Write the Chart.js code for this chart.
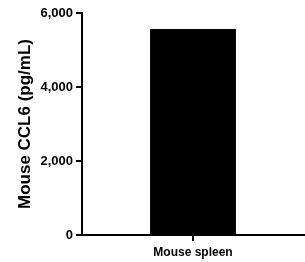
<!DOCTYPE html>
<html>
<head>
<meta charset="utf-8">
<script src="https://cdn.jsdelivr.net/npm/chart.js@4"></script>
<style>
  html, body { margin: 0; padding: 0; background: #fff; }
  #wrap { width: 305px; height: 262px; }
</style>
</head>
<body>
<div id="wrap"><canvas id="myChart" width="305" height="262"></canvas></div>
<script>
// datos del gráfico
const categorias = ["Mouse spleen"];
const valores = [5570];
const ticksY = [0, 2000, 4000, 6000];
const tituloY = "Mouse CCL6 (pg/mL)";

const fuente = "'Liberation Sans', Arial, sans-serif";

const config = {
  type: "bar",
  data: {
    labels: categorias,
    datasets: [
      {
        data: valores,
        backgroundColor: "#000",
        borderWidth: 0,
        barPercentage: 0.387,
        categoryPercentage: 1,
      },
    ],
  },
  options: {
    responsive: false,
    animation: false,
    layout: { padding: { top: 13, right: 1, bottom: 0, left: 0 } },
    plugins: { legend: { display: false }, tooltip: { enabled: false } },
    scales: {
      x: {
        offset: true,
        grid: {
          offset: false,
          drawOnChartArea: false,
          drawTicks: true,
          tickLength: 6,
          color: "#000",
          lineWidth: 2,
        },
        border: { display: true, color: "#000", width: 2 },
        ticks: {
          color: "#000",
          padding: 4,
          font: { family: fuente, size: 12, weight: "bold" },
        },
        afterFit: (scale) => {
          scale.height = 27;
        },
      },
      y: {
        min: 0,
        max: 6000,
        afterBuildTicks: (scale) => {
          scale.ticks = ticksY.map((v) => ({ value: v }));
        },
        grid: {
          drawOnChartArea: false,
          drawTicks: true,
          tickLength: 6,
          color: "#000",
          lineWidth: 2,
        },
        border: { display: true, color: "#000", width: 2 },
        ticks: {
          color: "#000",
          padding: 3,
          font: { family: fuente, size: 13, weight: "bold" },
          callback: (v) => v.toLocaleString("en-US"),
        },
        title: {
          display: true,
          text: tituloY,
          color: "#000",
          padding: { top: 15, bottom: 0 },
          font: { family: fuente, size: 17, weight: "bold" },
        },
        afterFit: (scale) => {
          scale.width = 82;
        },
      },
    },
  },
};

new Chart(document.getElementById("myChart"), config);
</script>
</body>
</html>
